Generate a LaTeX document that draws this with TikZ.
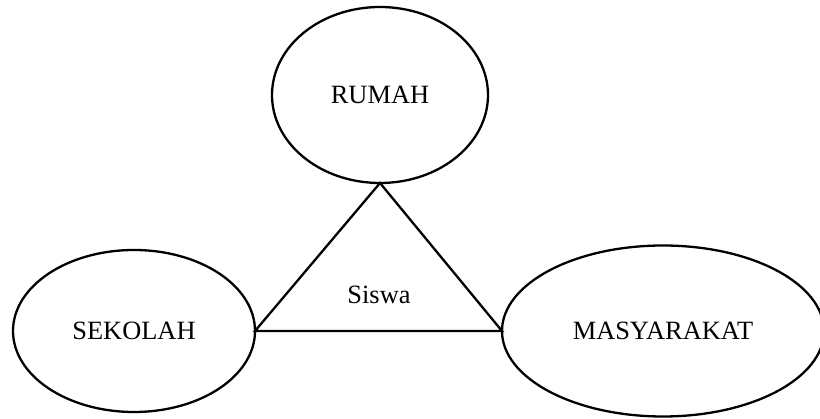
\documentclass[tikz,border=0pt]{standalone}
\usepackage{fontspec}
\setmainfont{Liberation Serif}
\usetikzlibrary{shapes.geometric}
\begin{document}
\begin{tikzpicture}[x=1pt,y=-1pt,
  oval/.style={draw, ellipse, line width=2.3pt, inner sep=0pt, outer sep=0pt,
    font=\fontsize{26.4}{30}\selectfont},
  edge/.style={line width=2.3pt, line join=miter},
  lbl/.style={font=\fontsize{26.4}{30}\selectfont, inner sep=0pt}]
\useasboundingbox (0,0) rectangle (820,419);
\clip (0,0) rectangle (820,419);
\node[oval, minimum width=216pt, minimum height=176pt] (rumah) at (380,95) {RUMAH};
\node[oval, minimum width=242pt, minimum height=162pt] (sekolah) at (134,331) {SEKOLAH};
\node[oval, minimum width=322pt, minimum height=171pt] (masy) at (663,331) {MASYARAKAT};
\coordinate (apex) at (rumah.south);
\coordinate (left) at (sekolah.east);
\coordinate (right) at (masy.west);
\draw[edge] (left) -- (apex) -- (right) -- cycle;
\node[lbl] (siswa) at (379,295) {Siswa};
\end{tikzpicture}
\end{document}
